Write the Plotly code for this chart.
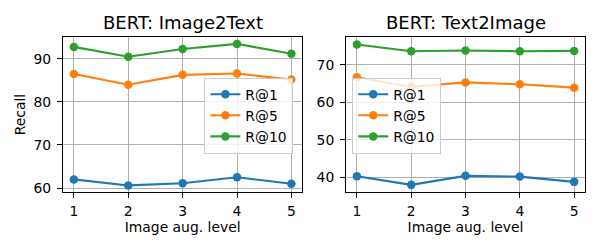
import plotly.graph_objects as go

levels = [1, 2, 3, 4, 5]
series_names = ["R@1", "R@5", "R@10"]
colors = ["#1f77b4", "#ff7f0e", "#2ca02c"]

i2t_r1 = [62.0, 60.6, 61.1, 62.5, 61.0]
i2t_r5 = [86.5, 84.0, 86.3, 86.6, 85.2]
i2t_r10 = [92.8, 90.5, 92.3, 93.5, 91.2]

t2i_r1 = [40.3, 38.0, 40.4, 40.2, 38.8]
t2i_r5 = [66.7, 64.1, 65.3, 64.8, 63.9]
t2i_r10 = [75.4, 73.6, 73.8, 73.6, 73.7]

titles = ["BERT: Image2Text", "BERT: Text2Image"]
x_label = "Image aug. level"
y_label = "Recall"

FONT = "DejaVu Sans"
fig = go.Figure()

panels = [
    ([i2t_r1, i2t_r5, i2t_r10], "x", "y", "legend"),
    ([t2i_r1, t2i_r5, t2i_r10], "x2", "y2", "legend2"),
]
for vals, xa, ya, leg in panels:
    for name, v, c in zip(series_names, vals, colors):
        fig.add_trace(go.Scatter(
            x=levels, y=v, name=name, mode="lines+markers",
            line=dict(color=c, width=2.1),
            marker=dict(color=c, size=8.5),
            xaxis=xa, yaxis=ya, legend=leg,
        ))

W, H = 600, 250
ml, mr, mt, mb = 62.5, 15, 37.3, 57.7
pw = W - ml - mr
ph = H - mt - mb
d1 = [0, (302 - ml) / pw]
d2 = [(345.8 - ml) / pw, 1]

axis_common = dict(
    showline=True, linecolor="black", linewidth=1, mirror=True,
    showgrid=True, gridcolor="#b0b0b0", gridwidth=0.8,
    ticks="outside", ticklen=5, tickcolor="black", tickwidth=1,
    tickfont=dict(family=FONT, size=13.9, color="black"),
    zeroline=False,
)

legend_common = dict(
    xanchor="left", yanchor="top",
    bgcolor="rgba(255,255,255,0.8)", bordercolor="#cccccc", borderwidth=1,
    font=dict(family=FONT, size=13.9), tracegroupgap=0, itemwidth=30,
)

fig.update_layout(
    width=W, height=H,
    margin=dict(l=ml, r=mr, t=mt, b=mb, pad=0),
    paper_bgcolor="white", plot_bgcolor="white",
    font=dict(family=FONT, color="black"),
    xaxis=dict(domain=d1, range=[0.8, 5.2], tickvals=levels, anchor="y",
               ticklabelstandoff=1,
               title=dict(text=x_label, font=dict(family=FONT, size=13.9), standoff=3),
               **axis_common),
    yaxis=dict(domain=[0, 1], range=[59.07, 95.1], tickvals=[60, 70, 80, 90], anchor="x",
               ticklabelstandoff=3,
               title=dict(text=y_label, font=dict(family=FONT, size=13.9), standoff=4),
               **axis_common),
    xaxis2=dict(domain=d2, range=[0.8, 5.2], tickvals=levels, anchor="y2",
                ticklabelstandoff=1,
                title=dict(text=x_label, font=dict(family=FONT, size=13.9), standoff=3),
                **axis_common),
    yaxis2=dict(domain=[0, 1], range=[36.1, 77.4], tickvals=[40, 50, 60, 70], anchor="x2",
                ticklabelstandoff=3,
                **axis_common),
    legend=dict(x=(204 - ml) / pw, y=1 - (78 - mt) / ph, **legend_common),
    legend2=dict(x=(352 - ml) / pw, y=1 - (78 - mt) / ph, **legend_common),
    showlegend=True,
)

for t, d in zip(titles, [d1, d2]):
    fig.add_annotation(text=t, xref="paper", yref="paper", x=(d[0] + d[1]) / 2, y=1,
                       xanchor="center", yanchor="bottom", yshift=2, showarrow=False,
                       font=dict(family=FONT, size=18, color="black"))

fig.write_html("out.html", config={"displayModeBar": False},
               post_script="document.body.style.margin='0';document.body.style.overflow='hidden';")
